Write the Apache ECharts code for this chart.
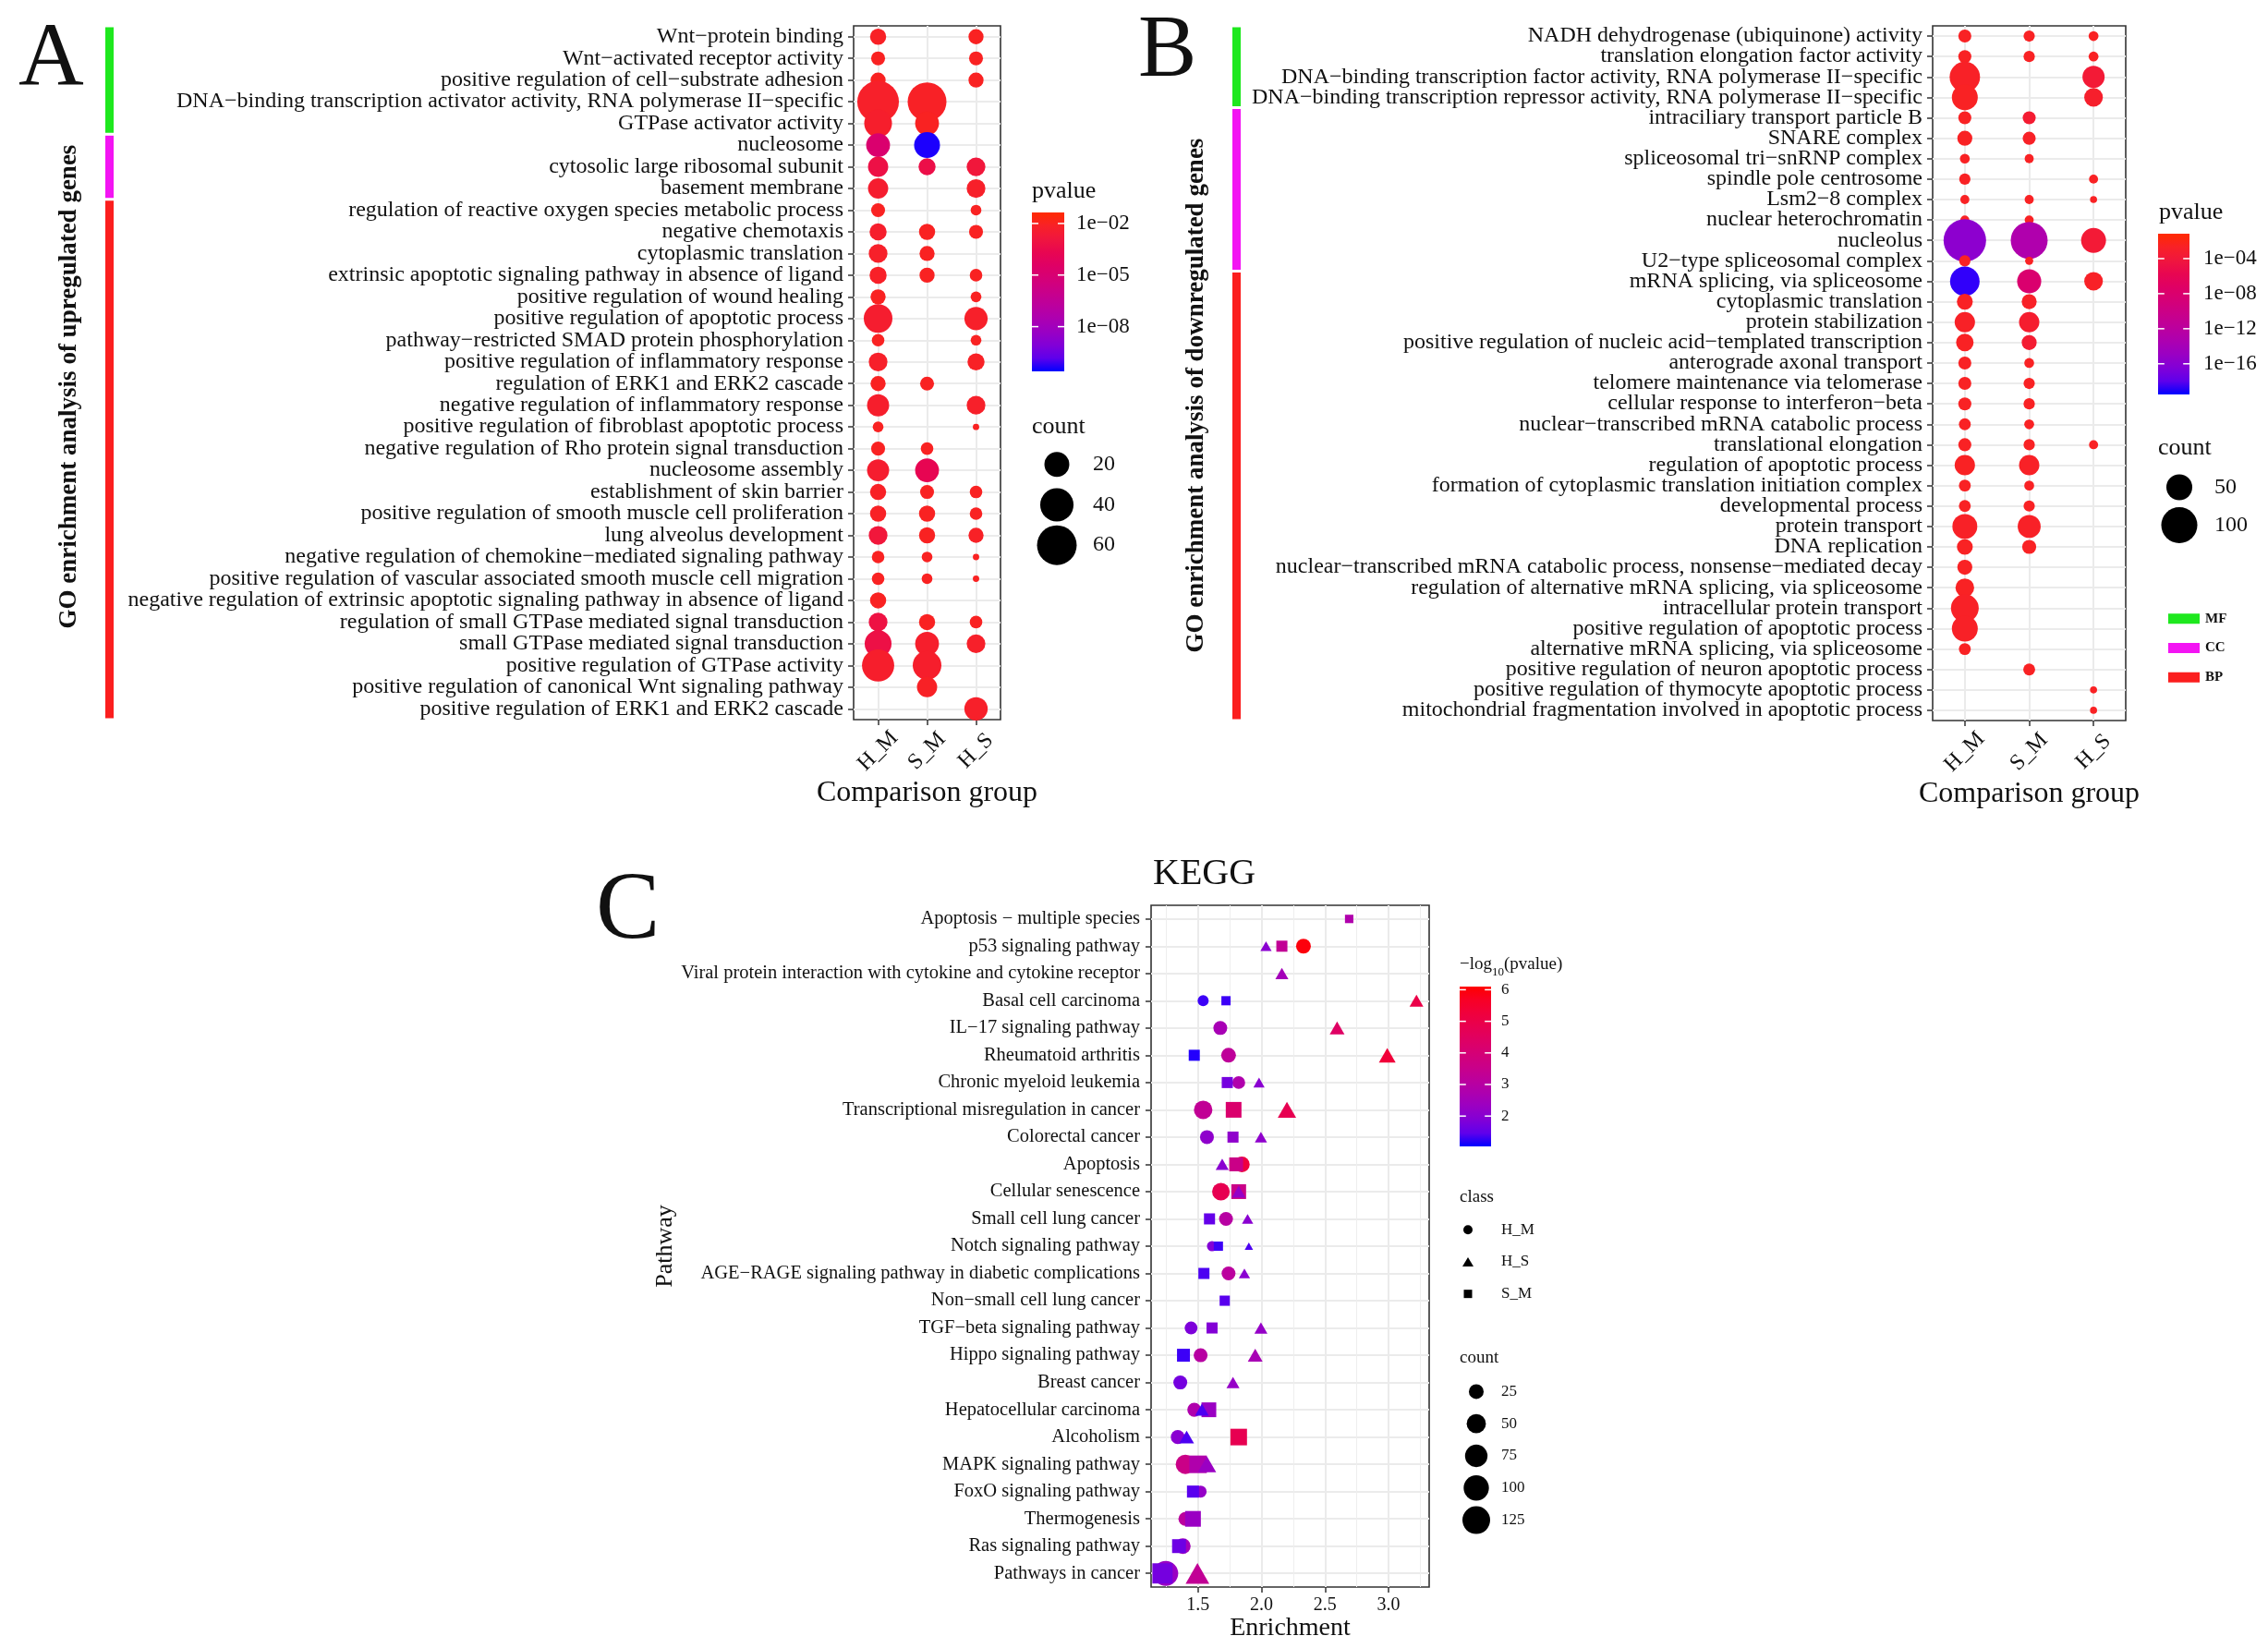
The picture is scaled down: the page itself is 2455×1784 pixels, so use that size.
<!DOCTYPE html>
<html>
<head>
<meta charset="utf-8">
<script src="https://cdn.jsdelivr.net/npm/echarts@6/dist/echarts.min.js"></script>
<style>
  html, body { margin: 0; padding: 0; background: #fff; }
  #chart { width: 2455px; height: 1784px; }
</style>
</head>
<body>
<div id="chart"></div>
<script>
const FONT = '"Liberation Serif", "Times New Roman", serif';
const INK = '#111';

// comparison groups
const groups = ['H_M', 'S_M', 'H_S'];

// ---------- A: GO terms of upregulated genes ----------
const upTerms = [
  'Wnt−protein binding',
  'Wnt−activated receptor activity',
  'positive regulation of cell−substrate adhesion',
  'DNA−binding transcription activator activity, RNA polymerase II−specific',
  'GTPase activator activity',
  'nucleosome',
  'cytosolic large ribosomal subunit',
  'basement membrane',
  'regulation of reactive oxygen species metabolic process',
  'negative chemotaxis',
  'cytoplasmic translation',
  'extrinsic apoptotic signaling pathway in absence of ligand',
  'positive regulation of wound healing',
  'positive regulation of apoptotic process',
  'pathway−restricted SMAD protein phosphorylation',
  'positive regulation of inflammatory response',
  'regulation of ERK1 and ERK2 cascade',
  'negative regulation of inflammatory response',
  'positive regulation of fibroblast apoptotic process',
  'negative regulation of Rho protein signal transduction',
  'nucleosome assembly',
  'establishment of skin barrier',
  'positive regulation of smooth muscle cell proliferation',
  'lung alveolus development',
  'negative regulation of chemokine−mediated signaling pathway',
  'positive regulation of vascular associated smooth muscle cell migration',
  'negative regulation of extrinsic apoptotic signaling pathway in absence of ligand',
  'regulation of small GTPase mediated signal transduction',
  'small GTPase mediated signal transduction',
  'positive regulation of GTPase activity',
  'positive regulation of canonical Wnt signaling pathway',
  'positive regulation of ERK1 and ERK2 cascade'
];
const upOntology = ['MF','MF','MF','MF','MF','CC','CC','CC',
  'BP','BP','BP','BP','BP','BP','BP','BP','BP','BP','BP','BP','BP','BP','BP','BP',
  'BP','BP','BP','BP','BP','BP','BP','BP'];
const upCountHM = [7,5,6,67,26,18,12,12,5,8,10,8,6,28,4,10,6,15,3,5,15,7,7,10,4,4,7,10,24,37,null,null];
const upCountSM = [null,null,null,57,18,22,8,null,null,7,6,6,null,null,null,null,5,null,null,4,18,5,7,7,3,3,null,7,18,28,12,null];
const upCountHS = [6,5,6,null,null,null,10,10,3,5,null,4,3,17,3,8,null,10,2,null,null,4,4,6,2,2,null,4,10,null,null,17];
const upPvalHM = [0.008,0.01,0.01,0.006,0.005,1.5e-5,6e-4,0.004,0.01,0.005,0.006,0.007,0.01,0.004,0.01,0.006,0.01,0.005,0.01,0.01,0.004,0.008,0.008,1.5e-3,0.01,0.01,0.01,8e-4,6e-4,0.005,null,null];
const upPvalSM = [null,null,null,0.008,0.01,3e-11,5e-4,null,null,0.01,0.01,0.01,null,null,null,null,0.01,null,null,0.01,2e-4,0.01,0.01,0.01,0.01,0.01,null,0.01,0.005,0.005,0.008,null];
const upPvalHS = [0.01,0.01,0.01,null,null,null,1.5e-3,0.006,0.01,0.01,null,0.01,0.01,0.006,0.01,0.008,null,0.006,0.01,null,null,0.01,0.01,0.008,0.01,0.01,null,0.01,0.006,null,null,0.006];
const upCountBreaks = [20, 40, 60];
const upPvalBreaks = [-8, -5, -2];   // log10 of 1e-08, 1e-05, 1e-02

// ---------- B: GO terms of downregulated genes ----------
const downTerms = [
  'NADH dehydrogenase (ubiquinone) activity',
  'translation elongation factor activity',
  'DNA−binding transcription factor activity, RNA polymerase II−specific',
  'DNA−binding transcription repressor activity, RNA polymerase II−specific',
  'intraciliary transport particle B',
  'SNARE complex',
  'spliceosomal tri−snRNP complex',
  'spindle pole centrosome',
  'Lsm2−8 complex',
  'nuclear heterochromatin',
  'nucleolus',
  'U2−type spliceosomal complex',
  'mRNA splicing, via spliceosome',
  'cytoplasmic translation',
  'protein stabilization',
  'positive regulation of nucleic acid−templated transcription',
  'anterograde axonal transport',
  'telomere maintenance via telomerase',
  'cellular response to interferon−beta',
  'nuclear−transcribed mRNA catabolic process',
  'translational elongation',
  'regulation of apoptotic process',
  'formation of cytoplasmic translation initiation complex',
  'developmental process',
  'protein transport',
  'DNA replication',
  'nuclear−transcribed mRNA catabolic process, nonsense−mediated decay',
  'regulation of alternative mRNA splicing, via spliceosome',
  'intracellular protein transport',
  'positive regulation of apoptotic process',
  'alternative mRNA splicing, via spliceosome',
  'positive regulation of neuron apoptotic process',
  'positive regulation of thymocyte apoptotic process',
  'mitochondrial fragmentation involved in apoptotic process'
];
const downOntology = ['MF','MF','MF','MF','CC','CC','CC','CC','CC','CC','CC','CC',
  'BP','BP','BP','BP','BP','BP','BP','BP','BP','BP','BP','BP','BP','BP','BP','BP',
  'BP','BP','BP','BP','BP','BP'];
const downCountHM = [12,12,70,50,12,16,7,9,6,6,141,9,66,18,30,22,12,12,12,10,12,30,10,10,46,18,16,25,58,50,10,null,null,null];
const downCountSM = [9,9,null,null,12,12,6,null,6,6,105,5,43,16,30,16,7,9,9,7,9,30,7,9,39,14,null,null,null,null,null,10,null,null];
const downCountHS = [7,7,36,25,null,null,null,6,4,null,46,null,25,null,null,null,null,null,null,null,6,null,null,null,null,null,null,null,null,null,null,null,4,4];
const downPvalHM = [3e-3,3e-3,2e-3,3e-3,3e-3,3e-3,3e-3,3e-3,3e-3,3e-3,1.6e-16,3e-3,8e-20,3e-3,2e-3,3e-3,3e-3,3e-3,3e-3,3e-3,3e-3,3e-3,3e-3,3e-3,2e-3,3e-3,3e-3,3e-3,2e-3,2e-3,3e-3,null,null,null];
const downPvalSM = [3e-3,3e-3,null,null,4e-4,2e-3,3e-3,null,3e-3,3e-3,8e-14,3e-3,1e-8,2e-3,6e-4,4e-4,3e-3,3e-3,3e-3,3e-3,3e-3,2e-3,3e-3,3e-3,2e-3,3e-3,null,null,null,null,null,3e-3,null,null];
const downPvalHS = [3e-3,3e-3,2e-4,1e-3,null,null,null,3e-3,3e-3,null,2e-4,null,2e-3,null,null,null,null,null,null,null,3e-3,null,null,null,null,null,null,null,null,null,null,null,3e-3,3e-3];
const downCountBreaks = [50, 100];
const downPvalBreaks = [-16, -12, -8, -4];
const ontologyNames = ['MF', 'CC', 'BP'];
const ontologyColors = { MF: '#1ee81e', CC: '#f314f3', BP: '#fb1e1e' };

// ---------- C: KEGG ----------
const keggPathways = [
  'Apoptosis − multiple species',
  'p53 signaling pathway',
  'Viral protein interaction with cytokine and cytokine receptor',
  'Basal cell carcinoma',
  'IL−17 signaling pathway',
  'Rheumatoid arthritis',
  'Chronic myeloid leukemia',
  'Transcriptional misregulation in cancer',
  'Colorectal cancer',
  'Apoptosis',
  'Cellular senescence',
  'Small cell lung cancer',
  'Notch signaling pathway',
  'AGE−RAGE signaling pathway in diabetic complications',
  'Non−small cell lung cancer',
  'TGF−beta signaling pathway',
  'Hippo signaling pathway',
  'Breast cancer',
  'Hepatocellular carcinoma',
  'Alcoholism',
  'MAPK signaling pathway',
  'FoxO signaling pathway',
  'Thermogenesis',
  'Ras signaling pathway',
  'Pathways in cancer'
];
const keggEnrichHM = [null,2.33,null,1.54,1.675,1.74,1.82,1.54,1.57,1.845,1.68,1.72,1.61,1.74,null,1.445,1.52,1.36,1.47,1.34,1.40,1.52,1.40,1.38,1.245];
const keggCountHM  = [null,25,null,11,21,25,17,45,21,29,40,21,9,21,null,17,21,21,21,21,51,14,21,29,97];
const keggLogpHM   = [null,6.0,null,1.2,2.6,3.2,2.8,3.3,2.1,5.2,4.8,3.0,1.9,3.1,null,1.8,3.0,1.7,2.8,2.0,3.6,2.2,3.1,2.5,2.3];
const keggEnrichHS = [null,2.035,2.16,3.22,2.595,2.99,1.98,2.2,1.995,1.69,1.82,1.89,1.90,1.865,null,1.995,1.95,1.775,1.53,1.41,1.57,null,null,null,1.495];
const keggCountHS  = [null,8,12,14,17,24,8,31,10,12,14,8,4,8,null,12,17,12,14,17,31,null,null,null,60];
const keggLogpHS   = [null,2.0,2.5,5.0,4.4,5.3,2.0,4.8,2.1,2.0,2.2,2.0,1.3,2.0,null,2.2,2.6,2.2,1.3,1.3,2.3,null,null,null,3.3];
const keggEnrichSM = [2.69,2.16,null,1.72,null,1.47,1.73,1.78,1.775,1.80,1.82,1.59,1.66,1.546,1.71,1.61,1.385,null,1.585,1.82,1.50,1.46,1.46,1.35,1.22];
const keggCountSM  = [7,15,null,9,null,15,15,39,15,28,33,15,9,15,12,15,23,null,33,45,52,19,39,28,75];
const keggLogpSM   = [2.8,3.3,null,1.2,null,1.1,1.7,4.2,2.1,3.6,3.6,1.5,1.2,1.3,1.4,1.9,1.2,null,2.3,4.8,2.8,1.4,2.3,1.6,1.7];
const keggClasses = ['H_M', 'H_S', 'S_M'];
const keggCountBreaks = [25, 50, 75, 100, 125];
const keggLogpBreaks = [2, 3, 4, 5, 6];
const enrichTicks = [1.5, 2.0, 2.5, 3.0];
const enrichMinor = [1.25, 1.75, 2.25, 2.75, 3.25];

// ---------- colour ramps (interpolated in Lab, like ggplot) ----------
function hex2rgb(h) { return [parseInt(h.slice(1,3),16), parseInt(h.slice(3,5),16), parseInt(h.slice(5,7),16)]; }
function rgb2lab(c) {
  const f = v => { v /= 255; return v <= 0.04045 ? v / 12.92 : Math.pow((v + 0.055) / 1.055, 2.4); };
  const R = f(c[0]), G = f(c[1]), B = f(c[2]);
  let X = (0.4124*R + 0.3576*G + 0.1805*B) / 0.95047;
  let Y = 0.2126*R + 0.7152*G + 0.0722*B;
  let Z = (0.0193*R + 0.1192*G + 0.9505*B) / 1.08883;
  const g = t => t > 0.008856 ? Math.cbrt(t) : 7.787*t + 16/116;
  X = g(X); Y = g(Y); Z = g(Z);
  return [116*Y - 16, 500*(X - Y), 200*(Y - Z)];
}
function lab2rgb(l) {
  let Y = (l[0] + 16) / 116, X = l[1] / 500 + Y, Z = Y - l[2] / 200;
  const h = t => { const t3 = t*t*t; return t3 > 0.008856 ? t3 : (t - 16/116) / 7.787; };
  X = h(X) * 0.95047; Y = h(Y); Z = h(Z) * 1.08883;
  const R = 3.2406*X - 1.5372*Y - 0.4986*Z;
  const G = -0.9689*X + 1.8758*Y + 0.0415*Z;
  const B = 0.0557*X - 0.2040*Y + 1.0570*Z;
  const k = v => { v = v <= 0.0031308 ? 12.92*v : 1.055*Math.pow(v, 1/2.4) - 0.055; return Math.round(Math.min(1, Math.max(0, v)) * 255); };
  return 'rgb(' + k(R) + ',' + k(G) + ',' + k(B) + ')';
}
function makeRamp(lo, hi) {
  const a = rgb2lab(hex2rgb(lo)), b = rgb2lab(hex2rgb(hi));
  return t => {
    t = Math.min(1, Math.max(0, t));
    return lab2rgb([a[0] + (b[0]-a[0])*t, a[1] + (b[1]-a[1])*t, a[2] + (b[2]-a[2])*t]);
  };
}
const rampGO = makeRamp('#0000ff', '#ff2a00');
const rampKEGG = makeRamp('#0000ff', '#ff0000');

// colour limits
const upLim = [-10.6, -1.36];
const downLim = [-19.5, -1.16];
const keggLim = [1.04, 6.1];

// size scales (diameter in px from count)
const sizeUp = c => 6.9 + 4.73 * Math.sqrt(Math.max(c - 2, 0));
const sizeDown = c => 2.4 + 3.70 * Math.sqrt(Math.max(c - 2, 0));
const sizeKegg = c => 5.7 + 2.2 * Math.sqrt(Math.max(c - 3, 0));

// ---------- layout ----------
const L = {
  A:     { left: 924,  top: 28,  width: 159, height: 751 },
  Astrip:{ left: 114,  top: 28,  width: 9,   height: 751 },
  Acbar: { left: 1117, top: 230, width: 35,  height: 172 },
  Acnt:  { left: 1122, top: 481, width: 44,  height: 131 },
  B:     { left: 2092, top: 28,  width: 209, height: 752 },
  Bstrip:{ left: 1334, top: 28,  width: 9,   height: 752 },
  Bcbar: { left: 2336, top: 253, width: 34,  height: 174 },
  Bcnt:  { left: 2337, top: 507, width: 44,  height: 82 },
  Bont:  { left: 2344, top: 654, width: 40,  height: 95 },
  C:     { left: 1246, top: 980, width: 301, height: 738 },
  Ccbar: { left: 1580, top: 1068, width: 34, height: 173 },
  Ccls:  { left: 1571, top: 1314, width: 36, height: 104 },
  Ccnt:  { left: 1580, top: 1489, width: 36, height: 174 }
};
const gridKeys = ['A','Astrip','Acbar','Acnt','B','Bstrip','Bcbar','Bcnt','Bont','C','Ccbar','Ccls','Ccnt'];
const G = {};
gridKeys.forEach((k, i) => { G[k] = i; });

const grids = gridKeys.map(k => {
  const g = Object.assign({ containLabel: false }, L[k]);
  if (k === 'A' || k === 'B' || k === 'C') {
    g.show = true; g.borderColor = '#333'; g.borderWidth = 1.6; g.backgroundColor = '#fff';
  }
  return g;
});

const labelStyle = (size, extra) => Object.assign({ fontFamily: FONT, fontSize: size, color: INK }, extra || {});
const hiddenValue = (g, min, max) => ({ type: 'value', gridIndex: g, min: min, max: max, show: false });
const tick = { show: true, alignWithLabel: true, length: 6, lineStyle: { color: '#333', width: 1.5 } };

function goMainAxes(g, terms) {
  const x = {
    type: 'category', gridIndex: g, data: groups, boundaryGap: true,
    axisLine: { show: false }, axisTick: tick, splitLine: { show: false },
    axisLabel: labelStyle(24, { rotate: 45, margin: 34, align: 'center', verticalAlign: 'middle', interval: 0 }),
    name: 'Comparison group', nameLocation: 'middle', nameGap: 47,
    nameTextStyle: labelStyle(32)
  };
  const y = {
    type: 'category', gridIndex: g, data: terms, inverse: true,
    axisLine: { show: false }, axisTick: tick, splitLine: { show: false },
    axisLabel: labelStyle(24, { margin: 11, interval: 0 })
  };
  return [x, y];
}
function stripAxes(g, terms, title, shift) {
  const x = hiddenValue(g, 0, 1);
  const y = {
    type: 'category', gridIndex: g, data: terms, inverse: true,
    axisLine: { show: false }, axisTick: { show: false }, axisLabel: { show: false }, splitLine: { show: false },
    name: title, nameLocation: 'middle', nameRotate: 90, nameGap: 25,
    nameTextStyle: labelStyle(27, { fontWeight: 'bold', padding: [0, shift, 0, 0] })
  };
  return [x, y];
}
function cbarAxes(g, lim, breaks, fmt, fs, margin) {
  const x = hiddenValue(g, 0, 1);
  const y = {
    type: 'value', gridIndex: g, min: lim[0], max: lim[1], position: 'right',
    axisLine: { show: false }, axisTick: { show: false }, splitLine: { show: false },
    axisLabel: labelStyle(fs, { customValues: breaks, formatter: fmt, margin: margin })
  };
  return [x, y];
}
function keyAxes(g, names, fs, margin, bold) {
  const x = hiddenValue(g, -1, 1);
  const y = {
    type: 'category', gridIndex: g, data: names.map(String), inverse: true, position: 'right',
    axisLine: { show: false }, axisTick: { show: false }, splitLine: { show: false },
    axisLabel: labelStyle(fs, { margin: margin, fontWeight: bold ? 'bold' : 'normal', align: 'left' })
  };
  return [x, y];
}
const fmtExp = v => '1e' + (v < 0 ? '−' : '+') + String(Math.abs(Math.round(v))).padStart(2, '0');

const axesByGrid = {
  A: goMainAxes(G.A, upTerms),
  Astrip: stripAxes(G.Astrip, upTerms, 'GO enrichment analysis of upregulated genes', 30),
  Acbar: cbarAxes(G.Acbar, upLim, upPvalBreaks, fmtExp, 23, 13),
  Acnt: keyAxes(G.Acnt, upCountBreaks, 24, 17, false),
  B: goMainAxes(G.B, downTerms),
  Bstrip: stripAxes(G.Bstrip, downTerms, 'GO enrichment analysis of downregulated genes', 48),
  Bcbar: cbarAxes(G.Bcbar, downLim, downPvalBreaks, fmtExp, 23, 15),
  Bcnt: keyAxes(G.Bcnt, downCountBreaks, 24, 16, false),
  Bont: keyAxes(G.Bont, ontologyNames, 15, 3, true),
  C: [
    {
      type: 'value', gridIndex: G.C, min: 1.13, max: 3.32,
      axisLine: { show: false }, splitLine: { show: false },
      axisTick: { show: true, length: 6, customValues: enrichTicks, lineStyle: { color: '#333', width: 1.5 } },
      axisLabel: labelStyle(20, { customValues: enrichTicks, formatter: v => v.toFixed(1), margin: 10 }),
      name: 'Enrichment', nameLocation: 'middle', nameGap: 30, nameTextStyle: labelStyle(28)
    },
    {
      type: 'category', gridIndex: G.C, data: keggPathways, inverse: true,
      axisLine: { show: false }, axisTick: tick, splitLine: { show: false },
      axisLabel: labelStyle(20.5, { margin: 12, interval: 0 }),
      name: 'Pathway', nameLocation: 'middle', nameGap: 490, nameTextStyle: labelStyle(26)
    }
  ],
  Ccbar: cbarAxes(G.Ccbar, keggLim, keggLogpBreaks, v => String(Math.round(v)), 17, 11),
  Ccls: keyAxes(G.Ccls, keggClasses, 17, 18, false),
  Ccnt: keyAxes(G.Ccnt, keggCountBreaks, 17, 9, false)
};
const xAxes = gridKeys.map(k => axesByGrid[k][0]);
const yAxes = gridKeys.map(k => axesByGrid[k][1]);

// ---------- series ----------
const series = [];
const gridLine = { color: '#ebebeb', width: 2 };
function gridLineSeries(g, marks) {
  series.push({
    type: 'scatter', xAxisIndex: g, yAxisIndex: g, data: [], z: 1, silent: true,
    markLine: { silent: true, z: 1, symbol: 'none', label: { show: false }, animation: false,
      lineStyle: Object.assign({ type: 'solid' }, gridLine), emphasis: { disabled: true }, data: marks }
  });
}
// GO panels: light grid through every term and group
function goPanel(g, terms, counts, pvals, sizeFn, lim) {
  gridLineSeries(g, terms.map((t, i) => ({ yAxis: i })).concat(groups.map((t, i) => ({ xAxis: i }))));
  counts.forEach((cArr, gi) => {
    const data = [];
    cArr.forEach((c, i) => { if (c != null) data.push([gi, i, c, Math.log10(pvals[gi][i])]); });
    series.push({
      type: 'scatter', xAxisIndex: g, yAxisIndex: g, data: data, z: 6, silent: true,
      symbol: 'circle', symbolSize: v => sizeFn(v[2]),
      itemStyle: { opacity: 1, color: p => rampGO((p.value[3] - lim[0]) / (lim[1] - lim[0])) }
    });
  });
}
goPanel(G.A, upTerms, [upCountHM, upCountSM, upCountHS], [upPvalHM, upPvalSM, upPvalHS], sizeUp, upLim);
goPanel(G.B, downTerms, [downCountHM, downCountSM, downCountHS], [downPvalHM, downPvalSM, downPvalHS], sizeDown, downLim);

// ontology strips
function stripSeries(g, ontology) {
  const segs = [];
  ontology.forEach((o, i) => {
    if (segs.length && segs[segs.length - 1][3] === o) segs[segs.length - 1][2] = i;
    else segs.push([0, i, i, o]);
  });
  series.push({
    type: 'custom', xAxisIndex: g, yAxisIndex: g, silent: true,
    data: segs.map(s => [s[0], s[1], s[2], ontologyNames.indexOf(s[3])]),
    encode: { x: 0, y: 1 },
    renderItem: (params, api) => {
      const cs = params.coordSys;
      const h = api.size([0, 1])[1];
      const y0 = api.coord([0, api.value(1)])[1] - h / 2 + 1.5;
      const y1 = api.coord([0, api.value(2)])[1] + h / 2 - 1.5;
      return { type: 'rect', shape: { x: cs.x, y: y0, width: cs.width, height: y1 - y0 },
        style: { fill: ontologyColors[ontologyNames[api.value(3)]] } };
    }
  });
}
stripSeries(G.Astrip, upOntology);
stripSeries(G.Bstrip, downOntology);

// colour bars
function cbarSeries(g, lim, breaks, ramp) {
  const stops = [];
  for (let i = 0; i <= 12; i++) stops.push({ offset: i / 12, color: ramp(1 - i / 12) });
  series.push({
    type: 'custom', xAxisIndex: g, yAxisIndex: g, silent: true,
    data: [[0, lim[0], lim[1]]], encode: { x: 0, y: 1 },
    renderItem: (params, api) => {
      const p0 = api.coord([0, lim[1]]), p1 = api.coord([1, lim[0]]);
      const w = p1[0] - p0[0];
      const kids = [{ type: 'rect', shape: { x: p0[0], y: p0[1], width: w, height: p1[1] - p0[1] },
        style: { fill: { type: 'linear', x: 0, y: 0, x2: 0, y2: 1, colorStops: stops } } }];
      breaks.forEach(b => {
        const y = api.coord([0, b])[1];
        kids.push({ type: 'line', shape: { x1: p0[0], y1: y, x2: p0[0] + w * 0.2, y2: y }, style: { stroke: '#fff', lineWidth: 1.5 } });
        kids.push({ type: 'line', shape: { x1: p1[0] - w * 0.2, y1: y, x2: p1[0], y2: y }, style: { stroke: '#fff', lineWidth: 1.5 } });
      });
      return { type: 'group', children: kids };
    }
  });
}
cbarSeries(G.Acbar, upLim, upPvalBreaks, rampGO);
cbarSeries(G.Bcbar, downLim, downPvalBreaks, rampGO);
cbarSeries(G.Ccbar, keggLim, keggLogpBreaks, rampKEGG);

// size keys
function sizeKey(g, breaks, sizeFn) {
  series.push({
    type: 'scatter', xAxisIndex: g, yAxisIndex: g, silent: true,
    data: breaks.map((b, i) => [0, i, b]), symbol: 'circle',
    symbolSize: v => sizeFn(v[2]), itemStyle: { color: '#000', opacity: 1 }
  });
}
sizeKey(G.Acnt, upCountBreaks, sizeUp);
sizeKey(G.Bcnt, downCountBreaks, sizeDown);
sizeKey(G.Ccnt, keggCountBreaks, sizeKegg);

// ontology key
series.push({
  type: 'scatter', xAxisIndex: G.Bont, yAxisIndex: G.Bont, silent: true,
  data: ontologyNames.map((n, i) => ({ value: [0, i], itemStyle: { color: ontologyColors[n] } })),
  symbol: 'rect', symbolSize: [34, 11], itemStyle: { opacity: 1 }
});

// KEGG panel
const shapeOf = { H_M: 'circle', S_M: 'rect', H_S: 'triangle' };
const shapeScale = { H_M: [1, 1], S_M: [0.9, 0.9], H_S: [1.15, 1.0] };
gridLineSeries(G.C,
  keggPathways.map((p, i) => ({ yAxis: i }))
    .concat(enrichTicks.map(v => ({ xAxis: v })))
    .concat(enrichMinor.map(v => ({ xAxis: v, lineStyle: { width: 1, color: '#eeeeee' } }))));
[['H_M', keggEnrichHM, keggCountHM, keggLogpHM],
 ['S_M', keggEnrichSM, keggCountSM, keggLogpSM],
 ['H_S', keggEnrichHS, keggCountHS, keggLogpHS]].forEach(([cls, en, cn, lp]) => {
  const data = [];
  en.forEach((e, i) => { if (e != null) data.push([e, i, cn[i], lp[i]]); });
  const sc = shapeScale[cls];
  series.push({
    type: 'scatter', xAxisIndex: G.C, yAxisIndex: G.C, data: data, z: 6, silent: true,
    symbol: shapeOf[cls],
    symbolSize: v => [sizeKegg(v[2]) * sc[0], sizeKegg(v[2]) * sc[1]],
    itemStyle: { opacity: 1, color: p => rampKEGG((p.value[3] - keggLim[0]) / (keggLim[1] - keggLim[0])) }
  });
});
// class key
series.push({
  type: 'scatter', xAxisIndex: G.Ccls, yAxisIndex: G.Ccls, silent: true,
  data: keggClasses.map((c, i) => ({ value: [0, i], symbol: shapeOf[c],
    symbolSize: c === 'H_S' ? [12, 10] : (c === 'S_M' ? 9 : 10) })),
  itemStyle: { color: '#000', opacity: 1 }
});

// ---------- free texts: panel letters, titles, legend titles ----------
const txt = (text, x, y, size, extra) => ({
  type: 'text', x: x, y: y, silent: true,
  style: Object.assign({ text: text, fill: INK, font: size + 'px ' + FONT, textAlign: 'left', textVerticalAlign: 'middle' }, extra || {})
});
const graphics = [
  txt('A', 20, 65, 98),
  txt('B', 1232, 57, 95),
  txt('C', 645, 988, 104),
  txt('KEGG', 1248, 946, 40),
  txt('pvalue', 1117, 207, 26),
  txt('count', 1117, 462, 26),
  txt('pvalue', 2337, 230, 26),
  txt('count', 2336, 485, 26),
  {
    type: 'text', x: 1580, y: 1047, silent: true,
    style: {
      text: '{a|−log}{b|10}{a|(pvalue)}', textAlign: 'left', textVerticalAlign: 'middle',
      rich: {
        a: { fontFamily: FONT, fontSize: 19, fill: INK, verticalAlign: 'top', lineHeight: 24 },
        b: { fontFamily: FONT, fontSize: 13, fill: INK, verticalAlign: 'bottom', lineHeight: 24 }
      }
    }
  },
  txt('class', 1580, 1296, 19),
  txt('count', 1580, 1470, 19)
];

const chart = echarts.init(document.getElementById('chart'), null, { renderer: 'canvas' });
chart.setOption({
  animation: false,
  backgroundColor: '#fff',
  grid: grids,
  xAxis: xAxes,
  yAxis: yAxes,
  series: series,
  graphic: { elements: graphics }
});
</script>
</body>
</html>
